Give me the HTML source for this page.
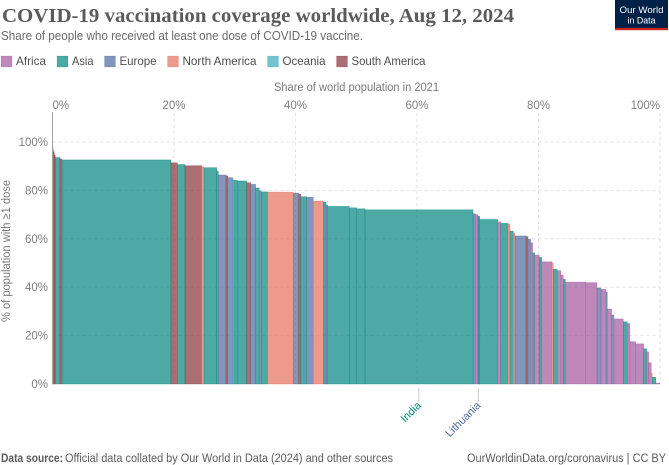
<!DOCTYPE html>
<html lang="en">
<head>
<meta charset="utf-8">
<title>COVID-19 vaccination coverage worldwide</title>
<style>
html,body{margin:0;padding:0;background:#fff;width:669px;height:465px;overflow:hidden}
svg{display:block}
text{font-family:"Liberation Sans",sans-serif}
</style>
</head>
<body>
<svg id="chart" xmlns="http://www.w3.org/2000/svg" width="669" height="465" viewBox="0 0 669 465">
  <rect width="669" height="465" fill="#fff"/>
  <text x="2" y="22" font-size="20" font-weight="700" fill="#5b5b5b" style="font-family:'Liberation Serif',serif" textLength="512" lengthAdjust="spacingAndGlyphs">COVID-19 vaccination coverage worldwide, Aug 12, 2024</text>
  <text x="1" y="40" font-size="12.5" fill="#6a6a6a" textLength="362" lengthAdjust="spacingAndGlyphs">Share of people who received at least one dose of COVID-19 vaccine.</text>

  <g>
    <rect x="615" y="0" width="53" height="30" fill="#002147"/>
    <rect x="615" y="28" width="53" height="2.2" fill="#ce261e"/>
    <text x="641.5" y="13" font-size="9.6" fill="#fff" text-anchor="middle" textLength="44" lengthAdjust="spacingAndGlyphs">Our World</text>
    <text x="641.5" y="23.5" font-size="9.6" fill="#fff" text-anchor="middle" textLength="28" lengthAdjust="spacingAndGlyphs">in Data</text>
  </g>

  <g id="legend"></g>

  <text x="274" y="91" font-size="11.5" fill="#7a7a7a" textLength="165" lengthAdjust="spacingAndGlyphs">Share of world population in 2021</text>
  <text transform="translate(10,322) rotate(-90)" font-size="11.5" fill="#7a7a7a" textLength="142" lengthAdjust="spacingAndGlyphs">% of population with ≥1 dose</text>

  <g id="grid"></g>
  <g id="bars"></g>
  <g id="axes"></g>
  <g id="annotations"></g>

  <text x="1" y="462" font-size="11.5" font-weight="700" fill="#5b5b5b" textLength="62" lengthAdjust="spacingAndGlyphs">Data source:</text>
  <text x="65" y="462" font-size="11.5" fill="#5b5b5b" textLength="328" lengthAdjust="spacingAndGlyphs">Official data collated by Our World in Data (2024) and other sources</text>
  <text x="467" y="462" font-size="11.5" fill="#5b5b5b" textLength="199" lengthAdjust="spacingAndGlyphs">OurWorldinData.org/coronavirus | CC BY</text>
</svg>
<script>
// Chart data, ordered from highest to lowest coverage
var continents = ["SA","Asia","SA","Asia","SA","Asia","SA","NA","Asia","Asia","Europe","SA","Europe","Oceania","Asia","Asia","SA","Europe","Asia","Europe","Asia","NA","Europe","SA","Asia","Asia","Europe","NA","Asia","Europe","Asia","Asia","Asia","Asia","Europe","Africa","Europe","Asia","Asia","Africa","Asia","NA","Asia","NA","Europe","SA","Europe","Africa","Asia","Africa","Asia","Africa","NA","Asia","Africa","Africa","Asia","Africa","Africa","Europe","Africa","Europe","Africa","Europe","Africa","Asia","Africa","Africa","Africa","Asia","Africa","Africa","NA","Asia","Africa"];
var populationShares = [0.46,0.77,0.33,17.94,1.04,1.27,2.75,0.38,2.09,0.26,1.27,0.28,0.82,0.2,0.55,1.55,0.66,0.82,0.6,0.33,1.05,4.21,0.89,0.33,0.99,0,1.09,1.65,0.44,0.28,3.56,1.21,1.37,17.78,0.38,0.4,0.1,0.23,2.96,0.49,1.2,0.33,0.54,0.28,1.81,0.33,0.44,0.33,0.33,0.76,0.4,1.65,0.26,0.66,0.6,0.38,0.33,3.36,1.86,0.66,0.82,0.21,0.72,0.38,1.53,0.66,0.44,0.94,1.32,0.49,0.33,0.43,0.16,0.6,0.66];
var coverageValues = [94.5,93.6,93,92.6,91.4,90.7,90.2,89.8,89.4,88,86.4,86,85.3,84.5,84.2,83.9,83.2,82.5,81,79.9,79.4,79.3,78.9,78.5,77.4,77.2,77.2,75.6,75.1,74,73.4,72.8,72.4,72,70.4,70,69.5,69.3,68,67,66.4,66.1,63.2,62.4,61.2,60.9,59.8,58.4,54.2,53.3,52.3,50.5,50.1,47.4,46.8,45,43.3,42.1,41.9,39.7,39.1,38,31,28.5,26.9,25.7,25,17.5,16.6,14.6,13.3,8.8,4.5,2.8,0.4];
var peakShares = [0.08,0.1,0.12];
var peakContinents = ["Asia","Oceania","SA"];
var peakValues = [98,97,96];
var xTicks = [0,20,40,60,80,100];
var yTicks = [0,20,40,60,80,100];
var legendNames = ["Africa","Asia","Europe","North America","Oceania","South America"];
var legendKeys = ["Africa","Asia","Europe","NA","Oceania","SA"];
var legendTextWidths = [30,21.5,37,74,43,74];
var labelledCountries = ["India","Lithuania"];
var labelledShares = [60.3,70.1];
var labelledContinents = ["Asia","Europe"];

var palette = {Africa:"#A2559C",Asia:"#00847E",Europe:"#4C6A9C",NA:"#E56E5A",Oceania:"#38AABA",SA:"#883039"};
var NS = "http://www.w3.org/2000/svg";

function xScale(share){ return 52.5 + share * 6.075; }
function yScale(value){ return 384 - value * 2.42; }
function make(tag, attrs, parent){
  var el = document.createElementNS(NS, tag);
  for (var k in attrs) { el.setAttribute(k, attrs[k]); }
  parent.appendChild(el);
  return el;
}

var grid = document.getElementById("grid");
var bars = document.getElementById("bars");
var axes = document.getElementById("axes");
var legend = document.getElementById("legend");
var annotations = document.getElementById("annotations");

// gridlines and tick labels
xTicks.forEach(function(t){
  if (t > 0) {
    var line = make("line", {x1:xScale(t), x2:xScale(t), y1:113, y2:384, stroke:"#e2e2e2", "stroke-dasharray":"3,3"}, grid);
    
    
  }
  var anchor = t === 0 ? "start" : (t === 100 ? "end" : "middle");
  var label = make("text", {x:xScale(t), y:109, "font-size":11.5, fill:"#808080", "text-anchor":anchor}, axes);
  
  
  label.textContent = t + "%";
});
yTicks.forEach(function(t){
  if (t > 0) {
    var line = make("line", {x1:52.5, x2:660, y1:yScale(t), y2:yScale(t), stroke:"#e2e2e2", "stroke-dasharray":"3,3"}, grid);
    
    
  }
  var label = make("text", {x:48, y:yScale(t) + 4, "font-size":11.5, fill:"#808080", "text-anchor":"end"}, axes);
  
  
  label.textContent = t + "%";
});

function drawBar(start, share, value, key){
  if (share <= 0) { return; }
  var bar = make("rect", {
    x:xScale(start), y:yScale(value),
    width:xScale(start + share) - xScale(start),
    height:yScale(0) - yScale(value),
    fill:palette[key], "fill-opacity":0.7,
    stroke:palette[key], "stroke-opacity":0.6, "stroke-width":0.5
  }, bars);
  
  
}

// small high-coverage countries sit on top of the first bar
var cumulative = 0;
peakShares.forEach(function(s, i){
  drawBar(cumulative, s, peakValues[i], peakContinents[i]);
  cumulative += s;
});
var remainderStart = cumulative;
coverageValues.forEach(function(v, i){
  var share = populationShares[i];
  if (i === 0) { share = Math.max(0, share - remainderStart); }
  drawBar(cumulative, share, v, continents[i]);
  cumulative += share;
});

// axes
var yAxis = make("line", {x1:52.5, x2:52.5, y1:112, y2:384, stroke:"#a1a1a1", "stroke-width":1}, axes);



// legend
var legendX = 1;
legendNames.forEach(function(name, i){
  var sw = make("rect", {x:legendX, y:56, width:11, height:11, fill:palette[legendKeys[i]], "fill-opacity":0.7, stroke:palette[legendKeys[i]], "stroke-opacity":0.3, "stroke-width":0.5}, legend);
  
  
  var text = make("text", {x:legendX + 15, y:65, "font-size":12, fill:"#4e4e4e", textLength:legendTextWidths[i], lengthAdjust:"spacingAndGlyphs"}, legend);
  
  
  text.textContent = name;
  legendX += 15 + legendTextWidths[i] + 11;
});

// annotated countries
labelledCountries.forEach(function(name, i){
  var x = xScale(labelledShares[i]);
  var tick = make("line", {x1:x, x2:x, y1:388, y2:402, stroke:"#cccccc", "stroke-width":1}, annotations);
  
  
  var label = make("text", {x:0, y:0, "font-size":11, fill:palette[labelledContinents[i]], "text-anchor":"end", transform:"translate(" + (x + 3) + ",406) rotate(-45)"}, annotations);
  
  
  label.textContent = name;
});
</script>
</body>
</html>
